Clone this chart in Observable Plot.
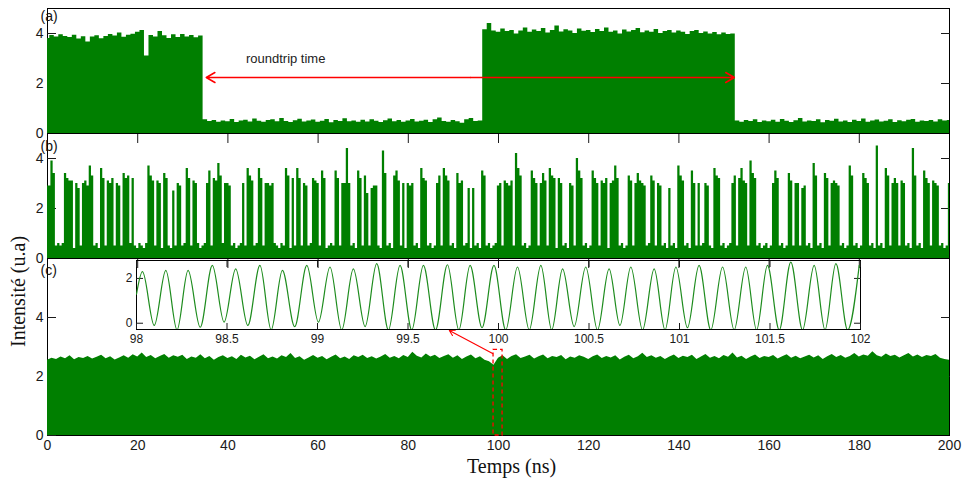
<!DOCTYPE html>
<html><head><meta charset="utf-8">
<script src="https://cdn.jsdelivr.net/npm/d3@7"></script>
<script src="https://cdn.jsdelivr.net/npm/@observablehq/plot@0.6"></script>
<style>
body{margin:0;background:#fff;}
#chart{position:relative;width:963px;height:482px;overflow:hidden;background:#fff;}
#chart svg{position:absolute;left:0;top:0;}
</style></head><body><div id="chart"></div>
<script>
// ---------- data ----------
const xTicks = [0,20,40,60,80,100,120,140,160,180,200];
const xInnerTicks = [20,40,60,80,100,120,140,160,180];
const yTicks = [0,2,4];
const yRightTicks = [2,4];
const insetXTicks = [98,98.5,99,99.5,100,100.5,101,101.5,102];
const insetYTicks = [0,2];
const panelLabels = ["(a)","(b)","(c)"];
const xLabel = "Temps (ns)";
const yLabel = "Intensité (u.a)";

// panel (a): envelope of the intensity, one value per ns (0..200)
const stepA = 1;
const panelA = [
3.80,3.92,3.86,3.95,3.88,3.84,3.93,3.78,3.87,3.66,
3.86,3.91,3.79,3.88,3.96,3.90,4.02,3.85,3.93,3.97,
4.05,4.12,3.10,3.92,3.86,4.08,3.91,3.80,3.95,3.84,
3.96,3.86,3.92,3.83,3.90,0.55,0.48,0.52,0.45,0.50,
0.47,0.56,0.44,0.50,0.53,0.46,0.58,0.49,0.45,0.52,
0.55,0.47,0.60,0.48,0.44,0.51,0.57,0.46,0.50,0.54,
0.45,0.49,0.56,0.43,0.52,0.48,0.59,0.47,0.50,0.45,
0.53,0.46,0.55,0.49,0.44,0.51,0.58,0.47,0.52,0.45,
0.50,0.56,0.46,0.49,0.53,0.44,0.55,0.62,0.48,0.45,
0.52,0.47,0.41,0.55,0.60,0.48,0.50,4.15,4.40,4.10,
4.05,4.18,4.08,4.12,3.98,4.10,4.22,4.05,4.14,4.08,
4.20,4.02,4.12,4.30,4.06,4.15,4.10,4.00,4.18,4.09,
4.12,4.04,4.16,4.08,4.22,4.05,4.10,3.98,4.14,4.06,
4.12,4.20,4.03,4.10,4.05,4.16,4.00,4.08,4.12,4.02,
4.10,4.05,3.96,4.08,4.12,4.00,4.06,3.98,4.04,3.95,
4.02,3.96,3.98,0.50,0.45,0.52,0.48,0.55,0.44,0.50,
0.47,0.53,0.45,0.56,0.49,0.44,0.51,0.60,0.46,0.50,
0.48,0.55,0.43,0.52,0.49,0.57,0.46,0.50,0.44,0.53,
0.48,0.58,0.45,0.50,0.54,0.46,0.49,0.55,0.44,0.51,
0.47,0.53,0.56,0.45,0.50,0.48,0.52,0.46,0.55,0.50,
0.52];

// panel (b): chaotic pulses, one value per 0.5 ns (0..200)
const stepB = 0.5;
const panelB = [
2.9,2.9,3.9,3.4,0.5,0.6,0.5,0.6,3.4,3.2,3.1,3.1,0.4,3.0,2.8,0.5,3.0,3.1,2.9,3.7,
3.3,0.5,0.6,0.4,3.6,3.2,0.5,3.1,3.0,3.2,0.5,3.0,2.9,0.5,3.4,3.2,3.3,0.6,3.2,0.5,
0.4,0.6,0.5,0.4,0.6,3.7,3.3,3.1,0.5,3.1,3.0,0.4,3.4,3.2,0.5,0.4,2.7,0.5,3.0,2.9,
0.5,0.6,3.6,3.2,0.5,3.1,3.0,0.6,0.4,0.5,0.6,3.0,3.5,0.5,3.2,3.1,3.8,3.3,0.6,3.0,
3.0,2.9,0.5,0.6,0.4,0.5,0.6,3.0,0.5,3.6,3.3,3.1,0.5,0.6,3.6,3.2,0.5,3.0,3.0,2.9,
3.0,0.6,0.5,0.4,0.6,0.5,3.6,3.3,0.4,3.2,0.5,3.6,3.2,0.5,3.0,2.9,0.5,0.6,3.2,3.1,
3.0,0.5,3.5,3.2,0.4,0.5,0.6,0.5,3.5,3.2,0.5,3.0,3.0,4.4,3.0,0.5,0.6,0.4,3.5,3.2,
0.5,3.3,2.6,0.5,2.8,2.9,2.9,0.5,0.4,4.3,3.4,0.5,0.6,0.4,3.3,3.5,3.1,0.5,3.0,0.4,
3.0,2.9,3.0,0.5,0.6,0.4,3.6,3.2,3.1,0.5,0.6,0.4,0.5,3.0,3.3,0.5,3.6,3.3,3.1,0.5,
0.6,0.4,3.4,3.0,3.1,0.5,0.6,2.8,0.4,2.8,0.5,0.6,0.4,3.5,3.3,0.5,0.6,0.4,0.5,0.6,
2.9,3.0,0.5,3.1,3.0,2.9,3.1,0.5,4.2,3.6,3.3,0.5,0.6,0.4,0.5,3.5,3.2,3.0,0.5,3.0,
3.4,3.1,0.5,3.6,3.3,3.2,0.4,3.2,3.0,0.5,0.6,0.4,3.0,2.9,0.5,4.0,3.5,3.2,0.5,0.6,
0.4,0.5,3.5,3.2,3.0,0.5,3.1,3.0,3.2,0.4,3.0,3.1,3.7,3.2,0.5,0.6,0.4,0.5,3.3,3.1,
0.5,3.0,3.4,3.1,3.0,2.9,0.5,0.6,3.3,3.1,0.5,3.0,2.9,0.5,0.6,0.4,2.8,0.5,0.6,0.4,
3.7,3.3,3.1,0.5,0.6,0.4,3.5,3.0,0.5,3.0,0.5,0.6,3.0,2.9,0.5,0.4,3.6,3.3,3.2,0.5,
0.6,0.4,0.5,0.6,3.0,3.3,0.5,3.2,3.6,3.1,3.0,0.5,3.9,3.4,3.2,0.5,0.6,0.4,0.5,0.6,
0.4,0.5,3.0,3.5,3.2,0.5,0.6,0.4,0.5,3.4,3.1,0.5,3.0,3.0,0.5,2.8,2.9,0.5,0.6,0.4,
3.8,3.3,0.5,0.6,0.4,3.4,3.2,0.5,3.0,3.1,3.0,2.9,0.5,0.6,0.4,0.5,3.7,3.3,0.5,0.6,
0.4,0.5,3.4,3.2,3.0,0.5,0.6,0.4,4.5,0.5,0.6,0.4,3.6,3.3,0.5,3.0,3.2,3.0,0.5,3.1,
3.0,0.5,0.6,0.4,4.4,3.3,0.5,0.6,0.4,3.5,3.2,3.0,0.5,3.1,3.0,2.9,0.5,0.6,0.4,0.5,
3.0];

// panel (c): envelope of the intensity, one value per ns (0..200)
const stepC = 1;
const panelC = [
2.55,2.62,2.58,2.66,2.60,2.70,2.57,2.64,2.61,2.68,
2.59,2.65,2.72,2.60,2.67,2.56,2.63,2.70,2.62,2.74,
2.66,2.80,2.64,2.71,2.60,2.68,2.75,2.62,2.70,2.65,
2.72,2.58,2.66,2.62,2.74,2.60,2.68,2.55,2.64,2.70,
2.61,2.67,2.58,2.72,2.63,2.69,2.57,2.65,2.74,2.60,
2.66,2.59,2.70,2.64,2.78,2.61,2.67,2.55,2.63,2.71,
2.62,2.68,2.57,2.65,2.73,2.60,2.66,2.58,2.70,2.64,
2.72,2.61,2.67,2.59,2.66,2.75,2.62,2.68,2.60,2.71,
2.64,2.82,2.69,2.63,2.76,2.66,2.72,2.61,2.68,2.74,
2.62,2.70,2.58,2.66,2.73,2.60,2.67,2.55,2.50,2.38,
2.62,2.70,2.58,2.68,2.74,2.61,2.66,2.72,2.59,2.67,
2.73,2.60,2.68,2.64,2.71,2.57,2.66,2.62,2.70,2.65,
2.58,2.67,2.73,2.61,2.68,2.63,2.70,2.56,2.65,2.72,
2.60,2.67,2.79,2.64,2.70,2.62,2.68,2.58,2.66,2.73,
2.61,2.69,2.64,2.72,2.58,2.66,2.75,2.62,2.68,2.60,
2.71,2.65,2.80,2.63,2.69,2.58,2.66,2.73,2.61,2.68,
2.64,2.71,2.59,2.67,2.74,2.62,2.69,2.60,2.66,2.72,
2.63,2.70,2.58,2.67,2.75,2.64,2.71,2.62,2.68,2.78,
2.66,2.73,2.69,2.84,2.70,2.65,2.76,2.68,2.72,2.63,
2.70,2.78,2.66,2.73,2.64,2.71,2.68,2.75,2.62,2.58,
2.55];

// inset (98..102 ns): extrema of the oscillation
const insetStart = {t: 98.0, v: 1.3};
const insetPeakT = [98.033,98.162,98.285,98.419,98.548,98.682,98.806,98.941,99.069,99.198,99.327,99.456,99.585,99.718,99.843,99.975,
  100.105,100.234,100.354,100.482,100.611,100.731,100.860,100.980,101.108,101.238,101.366,101.486,101.615,101.744,101.864,101.993];
const insetPeakV = [2.30,2.36,2.36,2.58,2.43,2.58,2.36,2.58,2.51,2.43,2.66,2.58,2.58,2.61,2.58,2.58,
  2.51,2.58,2.43,2.51,2.43,2.51,2.43,2.51,2.58,2.51,2.51,2.58,2.73,2.58,2.66,2.58];
const insetTroughT = [98.098,98.224,98.352,98.484,98.615,98.744,98.874,99.005,99.134,99.263,99.392,99.521,99.652,99.781,99.909,100.040,
  100.170,100.294,100.418,100.547,100.671,100.796,100.920,101.044,101.173,101.302,101.426,101.551,101.680,101.804,101.929];
const insetTroughV = [-0.10,-0.30,-0.18,0.05,-0.10,-0.30,-0.15,0.05,-0.30,-0.15,-0.30,-0.30,-0.30,-0.30,-0.20,-0.30,
  -0.30,-0.30,-0.15,-0.30,-0.10,-0.30,-0.30,-0.20,-0.30,-0.30,-0.30,-0.30,-0.30,-0.30,-0.30];

// annotations
const roundtrip = {from: 35.2, to: 152.3, y: 2.24, text: "roundtrip time", textX: 44, textY: 3.0};
const zoomBox = [{x1: 98.9, x2: 100.9, y1: 0, y2: 2.9}];
const zoomArrow = [{x1: 98.7, y1: 2.78, x2: 89.1, y2: 3.56}];

// ---------- drawing ----------
const green = "#007f00";
const sans = "'Liberation Sans', Arial, sans-serif";
const serif = "'Liberation Serif', 'Times New Roman', serif";
const W = 963, H = 482;
const dA = panelA.map((v, i) => ({t: i * stepA, v}));
const dB = panelB.map((v, i) => ({t: i * stepB, v}));
const dC = panelC.map((v, i) => ({t: i * stepC, v}));
const dInset = [insetStart,
  ...insetPeakT.map((t, i) => ({t, v: insetPeakV[i]})),
  ...insetTroughT.map((t, i) => ({t, v: insetTroughV[i]}))].sort((a, b) => a.t - b.t);

const style = {background: "transparent", overflow: "visible", fontFamily: sans, fontSize: "14px", color: "#1a1a1a"};
const chart = document.getElementById("chart");

function panel(top, bottom, ymax, marks) {
  return Plot.plot({
    width: W, height: H,
    marginLeft: 47, marginRight: 14, marginTop: top, marginBottom: H - bottom,
    x: {domain: [0, 200], axis: null},
    y: {domain: [0, ymax], axis: null},
    style,
    marks
  });
}
const leftAxis = () => Plot.axisY(yTicks, {anchor: "left", tickSize: -9, tickPadding: 13, label: null});
const rightTicks = () => Plot.axisY(yRightTicks, {anchor: "right", tickSize: -9, fill: "none", label: null});
const topTicks = () => Plot.axisX(xInnerTicks, {anchor: "top", tickSize: -9, fill: "none", label: null});
const tag = (s, dy) => Plot.text([s], {frameAnchor: "top-left", lineAnchor: "middle", dx: -7, dy, textAnchor: "start", fill: "#111", fontSize: 14});

// panel (a)
const rtArrows = [
  {x1: (roundtrip.from + roundtrip.to) / 2, x2: roundtrip.from, y: roundtrip.y},
  {x1: (roundtrip.from + roundtrip.to) / 2, x2: roundtrip.to, y: roundtrip.y}
];
chart.append(panel(8, 133, 5, [
  Plot.frame({stroke: "#000"}),
  leftAxis(), rightTicks(),
  Plot.areaY(dA, {x: "t", y: "v", curve: "step", fill: green}),
  Plot.arrow(rtArrows, {x1: "x1", x2: "x2", y1: "y", y2: "y", stroke: "#ff0000", strokeWidth: 1.5, headLength: 10, bend: 0}),
  Plot.text([roundtrip], {x: "textX", y: "textY", text: "text", textAnchor: "start", fontSize: 13, fill: "#222"}),
  tag(panelLabels[0], 8)
]));

// panel (b)
chart.append(panel(133, 258, 5, [
  Plot.frame({stroke: "#000"}),
  leftAxis(), rightTicks(), topTicks(),
  Plot.areaY(dB, {x: "t", y: "v", curve: "step", fill: green}),
  tag(panelLabels[1], 13)
]));

// panel (c)
chart.append(panel(258, 435, 6, [
  Plot.frame({stroke: "#000"}),
  leftAxis(), rightTicks(), topTicks(),
  Plot.axisX(xTicks, {anchor: "bottom", tickSize: 0, tickPadding: 5, label: null}),
  Plot.areaY(dC, {x: "t", y: "v", fill: green}),
  Plot.rect(zoomBox, {x1: "x1", x2: "x2", y1: "y1", y2: "y2", fill: "none", stroke: "#ff0000", strokeWidth: 1.3, strokeDasharray: "4,3"}),
  Plot.arrow(zoomArrow, {x1: "x1", y1: "y1", x2: "x2", y2: "y2", stroke: "#ff0000", strokeWidth: 1.1, headLength: 8, bend: 0}),
  tag(panelLabels[2], 12),
  Plot.text([xLabel], {frameAnchor: "bottom", lineAnchor: "middle", dx: 13, dy: 31, fontFamily: serif, fontSize: 20, fill: "#111"}),
  Plot.text([yLabel], {frameAnchor: "left", dx: -29, rotate: -90, fontFamily: serif, fontSize: 20, fill: "#111"})
]));

// inset
chart.append(Plot.plot({
  width: W, height: H,
  marginLeft: 136, marginRight: W - 860, marginTop: 260, marginBottom: H - 329,
  x: {domain: [98, 102], axis: null},
  y: {domain: [-0.28, 2.8], axis: null},
  style: {...style, fontSize: "12px"},
  marks: [
    Plot.frame({stroke: "#000"}),
    Plot.axisX(insetXTicks, {anchor: "bottom", tickSize: -6, tickPadding: 11, tickFormat: d => String(d), label: null}),
    Plot.axisX(insetXTicks, {anchor: "top", tickSize: -6, fill: "none", label: null}),
    Plot.axisY(insetYTicks, {anchor: "left", tickSize: -7, tickPadding: 11, label: null}),
    Plot.axisY(insetYTicks, {anchor: "right", tickSize: -7, fill: "none", label: null}),
    Plot.line(dInset, {x: "t", y: "v", curve: "monotone-x", stroke: "#1e8c1e", strokeWidth: 1.2, clip: true})
  ]
}));
</script></body></html>
